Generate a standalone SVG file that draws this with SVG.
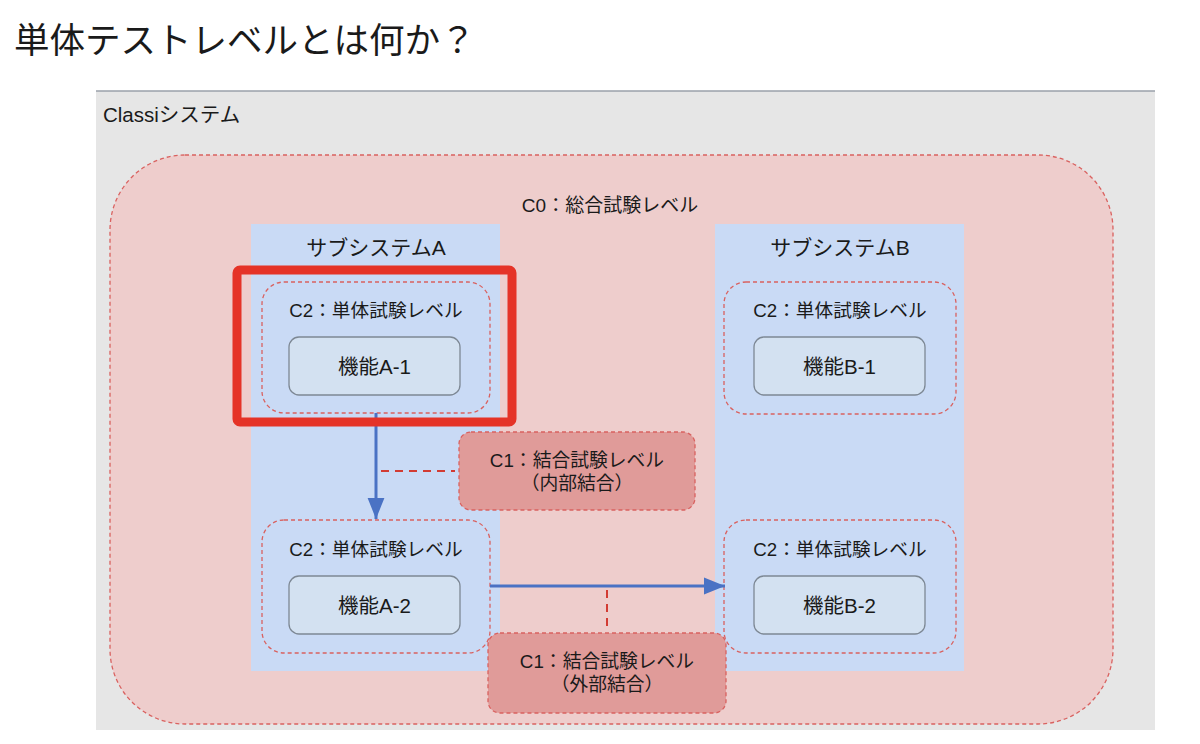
<svg xmlns="http://www.w3.org/2000/svg" width="1200" height="744" viewBox="0 0 1200 744">
<defs>
<style>
text{font-family:"Liberation Sans","Noto Sans CJK JP",sans-serif;fill:#1a1a1a;}
.c{text-anchor:middle;}
.lvl{fill:none;stroke:#d9615f;stroke-width:1.3;stroke-dasharray:4 3;}
.sub{fill:#c9daf5;}
.fn{fill:#d3e1f1;stroke:#7d8894;stroke-width:1.3;}
.c1{fill:#e09b99;stroke:#d9615f;stroke-width:1.3;stroke-dasharray:4 3;}
.flow{stroke:#4a72c4;stroke-width:3;fill:none;}
.link{stroke:#d23b33;stroke-width:2;stroke-dasharray:8 6;fill:none;}
.l2{font-size:18.7px;}
.fl{font-size:20.5px;}
.l1{font-size:18.8px;}
</style>
<marker id="ah" viewBox="0 0 10 10" refX="10" refY="5" markerWidth="7" markerHeight="7" orient="auto" markerUnits="strokeWidth">
<path d="M0,1 L10,5 L0,9 Z" fill="#4a72c4"/>
</marker>
</defs>
<rect width="1200" height="744" fill="#ffffff"/>
<text x="14" y="53" font-size="35.5">単体テストレベルとは何か？</text>

<g id="classi">
<rect x="96" y="91" width="1059" height="639" fill="#e6e6e6"/>
<line x1="96" y1="91" x2="1155" y2="91" stroke="#9aa1aa" stroke-width="1.5"/>
<text x="103" y="122" font-size="20.5">Classiシステム</text>
</g>

<g id="c0">
<rect x="110" y="155" width="1003" height="569" rx="75" ry="75" fill="#eecdcc" stroke="#d9615f" stroke-width="1.3" stroke-dasharray="4 3"/>
<text class="c" x="610" y="212" font-size="19">C0：総合試験レベル</text>
</g>

<g id="subA">
<rect class="sub" x="251" y="224" width="249" height="447"/>
<text class="c" x="376" y="255" font-size="21">サブシステムA</text>
</g>
<g id="subB">
<rect class="sub" x="715" y="224" width="249" height="447"/>
<text class="c" x="840" y="255" font-size="21">サブシステムB</text>
</g>

<g id="c2-a1">
<rect class="lvl" x="262" y="282" width="228" height="131" rx="22"/>
<text class="c l2" x="376" y="317">C2：単体試験レベル</text>
<rect class="fn" x="289" y="337" width="171" height="58" rx="10"/>
<text class="c fl" x="374.5" y="374">機能A-1</text>
</g>
<g id="c2-b1">
<rect class="lvl" x="724" y="282" width="232" height="132" rx="22"/>
<text class="c l2" x="840" y="317">C2：単体試験レベル</text>
<rect class="fn" x="754" y="337" width="171" height="58" rx="10"/>
<text class="c fl" x="839.5" y="374">機能B-1</text>
</g>
<g id="c2-a2">
<rect class="lvl" x="262" y="520" width="228" height="133" rx="22"/>
<text class="c l2" x="376" y="556">C2：単体試験レベル</text>
<rect class="fn" x="289" y="576" width="171" height="58" rx="10"/>
<text class="c fl" x="374.5" y="613">機能A-2</text>
</g>
<g id="c2-b2">
<rect class="lvl" x="724" y="520" width="232" height="133" rx="22"/>
<text class="c l2" x="840" y="556">C2：単体試験レベル</text>
<rect class="fn" x="754" y="576" width="171" height="58" rx="10"/>
<text class="c fl" x="839.5" y="613">機能B-2</text>
</g>

<g id="c1-internal">
<rect class="c1" x="459" y="432" width="236" height="78" rx="12"/>
<text class="c l1" x="577" y="467">C1：結合試験レベル</text>
<text class="c l1" x="577" y="490">（内部結合）</text>
</g>
<g id="c1-external">
<rect class="c1" x="488" y="633" width="238" height="80" rx="12"/>
<text class="c l1" x="607" y="668">C1：結合試験レベル</text>
<text class="c l1" x="607" y="691">（外部結合）</text>
</g>

<g id="connectors">
<line class="flow" x1="376" y1="413" x2="376" y2="519" marker-end="url(#ah)"/>
<line class="flow" x1="490" y1="586" x2="725" y2="586" marker-end="url(#ah)"/>
<line class="link" x1="381" y1="471" x2="455" y2="471"/>
<line class="link" x1="607" y1="590" x2="607" y2="631"/>
</g>

<g id="highlight">
<rect x="237" y="270" width="275" height="152" rx="3" fill="none" stroke="#e53327" stroke-width="9"/>
</g>
</svg>
